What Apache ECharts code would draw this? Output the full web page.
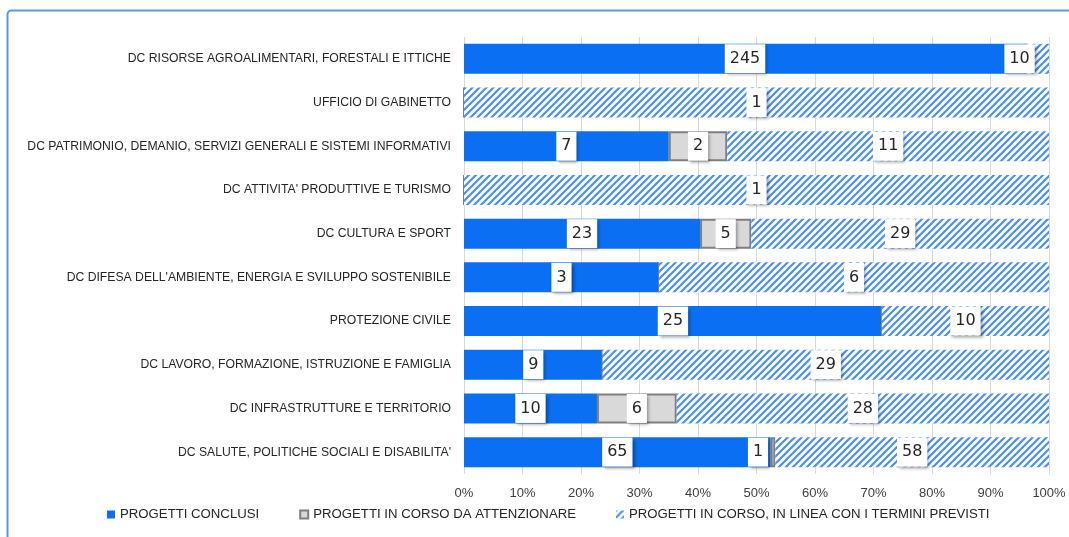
<!DOCTYPE html>
<html><head><meta charset="utf-8">
<script src="https://cdn.jsdelivr.net/npm/echarts@6/dist/echarts.min.js"></script>
<style>html,body{margin:0;padding:0;background:#fff}#c{width:1069px;height:537px}</style>
</head><body><div id="c"></div>
<script>
const categories = [
  "DC RISORSE AGROALIMENTARI, FORESTALI E ITTICHE",
  "UFFICIO DI GABINETTO",
  "DC PATRIMONIO, DEMANIO, SERVIZI GENERALI E SISTEMI INFORMATIVI",
  "DC ATTIVITA' PRODUTTIVE E TURISMO",
  "DC CULTURA E SPORT",
  "DC DIFESA DELL'AMBIENTE, ENERGIA E SVILUPPO SOSTENIBILE",
  "PROTEZIONE CIVILE",
  "DC LAVORO, FORMAZIONE, ISTRUZIONE E FAMIGLIA",
  "DC INFRASTRUTTURE E TERRITORIO",
  "DC SALUTE, POLITICHE SOCIALI E DISABILITA'"
];
const seriesNames = [
  "PROGETTI CONCLUSI",
  "PROGETTI IN CORSO DA ATTENZIONARE",
  "PROGETTI IN CORSO, IN LINEA CON I TERMINI PREVISTI"
];
const conclusi     = [245, 0, 7, 0, 23, 3, 25, 9, 10, 65];
const attenzionare = [0,   0, 2, 0, 5,  0, 0,  0, 6,  1];
const inLinea      = [10,  1, 11, 1, 29, 6, 10, 29, 28, 58];
const xTicks = [0,10,20,30,40,50,60,70,80,90,100];

const totals = categories.map((_, i) => conclusi[i] + attenzionare[i] + inLinea[i]);
function toPct(arr){
  return arr.map((v,i)=>{
    const o = {value: v/totals[i]*100, raw: v};
    if (v === 0) o.label = {show: false};
    return o;
  });
}

// hatch pattern
const pc = document.createElement('canvas');
const S = 7; pc.width = S; pc.height = S;
const g = pc.getContext('2d');
g.fillStyle = '#ffffff'; g.fillRect(0,0,S,S);
g.strokeStyle = '#4b8ff3'; g.lineWidth = 2.2; g.lineCap='square';
g.beginPath();
g.moveTo(0,S); g.lineTo(S,0);
g.moveTo(-S/2,S/2); g.lineTo(S/2,-S/2);
g.moveTo(S/2,S*1.5); g.lineTo(S*1.5,S/2);
g.stroke();

const labelStyle = {
  show: true, position: 'inside',
  formatter: p => String(p.data.raw),
  fontFamily: 'DejaVu Sans', fontSize: 16, color: '#262626',
  backgroundColor: '#ffffff', padding: [7,5,6,5],
  shadowColor: 'rgba(0,0,0,0.35)', shadowBlur: 3, shadowOffsetX: 2, shadowOffsetY: 2
};

const d1 = toPct(conclusi), d2 = toPct(attenzionare), d3 = toPct(inLinea);
d3[0].label = {offset: [-18, 0]};
d2[9].label = {offset: [-15, 0]};

const legendFont = {fontFamily: 'Liberation Sans', fontSize: 13.2, color: '#262626'};

const chart = echarts.init(document.getElementById('c'), null, {renderer:'canvas'});
chart.setOption({
  animation: false,
  graphic: [{type:'rect', shape:{x:7.5,y:10.5,width:1200,height:700,r:4}, style:{fill:'none',stroke:'#5b9bd5',lineWidth:2}, z:-10}],
  grid: {left: 464, right: 20, top: 37, bottom: 63, outerBoundsMode: 'none', containLabel: false},
  legend: {
    left: 102, top: 503, itemWidth: 8, itemHeight: 8, itemGap: 40,
    textStyle: legendFont,
    data: seriesNames.map(n => ({name: n, icon: 'rect'}))
  },
  xAxis: {
    type: 'value', min: 0, max: 100, interval: 10,
    axisLabel: {formatter: '{value}%', fontFamily: 'Liberation Sans', fontSize: 13, color: '#404040', margin: 13},
    splitLine: {lineStyle: {color: '#d9d9d9', width: 1}},
    axisLine: {show: false}, axisTick: {show: false}
  },
  yAxis: {
    type: 'category', data: categories, inverse: true,
    axisLine: {show: false}, axisTick: {show: false},
    axisLabel: {fontFamily: 'Liberation Sans', fontSize: 12.2, color: '#262626', margin: 13}
  },
  series: [
    {name: seriesNames[0], type: 'bar', stack: 't', barWidth: 30, data: d1,
     itemStyle: {color: '#0a6ff2'}, label: labelStyle},
    {name: seriesNames[1], type: 'bar', stack: 't', barWidth: 30, data: d2,
     itemStyle: {color: '#d9d9d9', borderColor: '#7f7f7f', borderWidth: 2}, label: labelStyle},
    {name: seriesNames[2], type: 'bar', stack: 't', barWidth: 30, data: d3,
     itemStyle: {color: {image: pc, repeat: 'repeat'}}, label: labelStyle}
  ]
});
</script></body></html>
